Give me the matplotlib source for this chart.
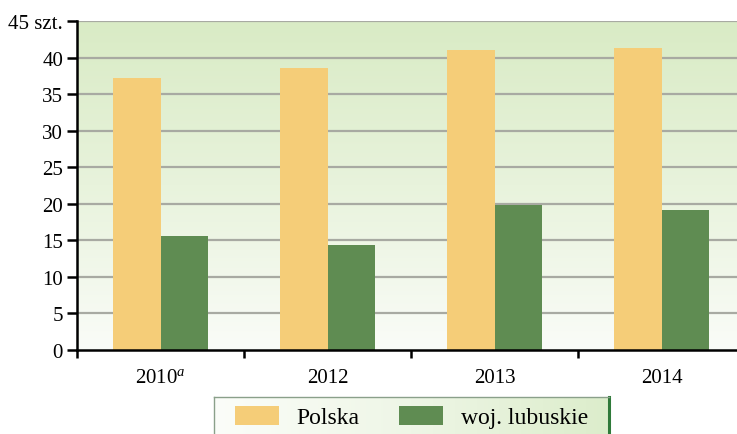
import numpy as np
import matplotlib
matplotlib.use("Agg")
import matplotlib.pyplot as plt
from matplotlib.colors import LinearSegmentedColormap
from matplotlib.patches import Patch

categories = ["2010$^{a}$", "2012", "2013", "2014"]
polska = [37.2, 38.6, 41.0, 41.3]
lubuskie = [15.6, 14.3, 19.9, 19.1]
series_names = ["Polska", "woj. lubuskie"]
yticks = [0, 5, 10, 15, 20, 25, 30, 35, 40, 45]

plt.rcParams['font.family'] = ['Liberation Serif', 'DejaVu Serif']
plt.rcParams['mathtext.fontset'] = 'custom'
plt.rcParams['mathtext.it'] = 'Liberation Serif:italic'
plt.rcParams['mathtext.rm'] = 'Liberation Serif'

W, H = 737, 435
fig = plt.figure(figsize=(W/100, H/100), dpi=100)
fig.patch.set_facecolor('white')

left, right = 77, 745
top, bottom = 22, 351
ax = fig.add_axes([left/W, (H-bottom)/H, (right-left)/W, (bottom-top)/H])

# gradient background
bg_cmap = LinearSegmentedColormap.from_list('bg', ['#fafcf8', '#e8f3dc', '#d9ebc5'])
grad = np.linspace(0, 1, 256).reshape(-1, 1)
ax.imshow(grad, extent=[0, 1, 0, 1], transform=ax.transAxes, aspect='auto',
          cmap=bg_cmap, origin='lower', zorder=0)

x = np.arange(len(categories))
bw = 0.287
ax.bar(x - bw/2, polska, bw, color='#f5cd78', zorder=3, label=series_names[0])
ax.bar(x + bw/2, lubuskie, bw, color='#5f8c52', zorder=3, label=series_names[1])

ax.set_xlim(-0.5, len(categories) - 0.5)
ax.set_ylim(0, 45)
ax.set_yticks(yticks)
ax.set_yticklabels([str(v) for v in yticks[:-1]] + ["45 szt."])
for v in yticks[1:]:
    ax.axhline(v, color='#a8aaa2', lw=1.6, zorder=1)

ax.set_xticks(x)
ax.set_xticklabels(categories)
ax.set_xticks(np.arange(len(categories)) - 0.5, minor=True)
ax.tick_params(axis='x', which='major', length=0, pad=13, labelsize=15)
ax.tick_params(axis='x', which='minor', length=6, width=1.8, direction='out')
ax.tick_params(axis='y', length=7, width=1.8, direction='out', pad=3, labelsize=15)

for s in ['top', 'right']:
    ax.spines[s].set_visible(False)
ax.spines['left'].set_linewidth(1.8)
ax.spines['bottom'].set_linewidth(1.8)
ax.spines['left'].set_zorder(5)
ax.spines['bottom'].set_zorder(5)

# legend box
lx0, lx1, ly0 = 214, 609, 398
lax = fig.add_axes([lx0/W, 0, (lx1-lx0)/W, (H-ly0)/H])
lcmap = LinearSegmentedColormap.from_list('lg', ['#fbfdf9', '#eef6e6', '#dcedcb'])
lax.imshow(np.linspace(0, 1, 256).reshape(1, -1), extent=[0, 1, 0, 1],
           transform=lax.transAxes, aspect='auto', cmap=lcmap, zorder=0)
lax.set_xticks([]); lax.set_yticks([])
lax.spines['bottom'].set_visible(False)
lax.spines['left'].set_color('#8aa08a'); lax.spines['left'].set_linewidth(1.0)
lax.spines['top'].set_color('#8aa08a'); lax.spines['top'].set_linewidth(1.0)
lax.spines['right'].set_color('#2f7a3a'); lax.spines['right'].set_linewidth(2.2)

handles = [Patch(facecolor='#f5cd78'), Patch(facecolor='#5f8c52')]
lax.legend(handles, series_names, loc='center', bbox_to_anchor=(0.5, 0.46),
           ncol=2, frameon=False, fontsize=17, handlelength=1.85, handleheight=0.85,
           columnspacing=1.7, handletextpad=0.75, borderpad=0, borderaxespad=0)

fig.savefig('out.png', dpi=100)
